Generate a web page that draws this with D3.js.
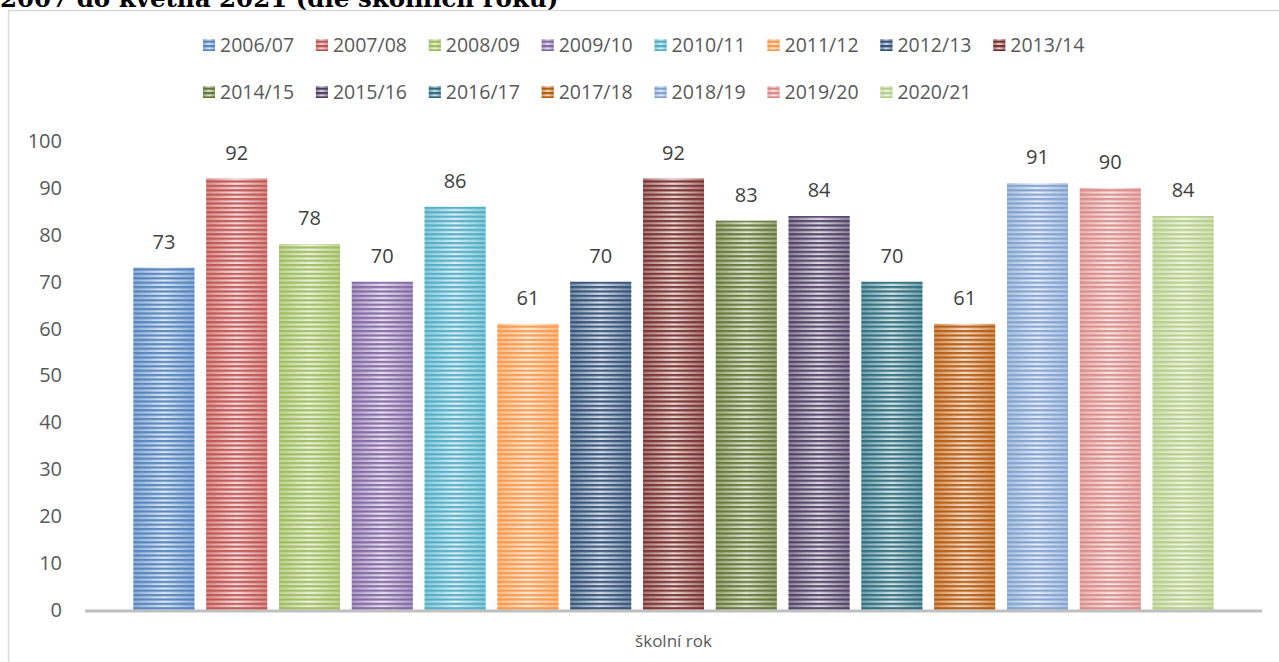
<!DOCTYPE html>
<html>
<head>
<meta charset="utf-8">
<script src="https://cdn.jsdelivr.net/npm/d3@7"></script>
<style>
  body { margin: 0; background: #fff; }
  svg { display: block; }
</style>
</head>
<body>
<div id="chart"></div>
<script>
// data
const years = ["2006/07","2007/08","2008/09","2009/10","2010/11","2011/12","2012/13","2013/14",
               "2014/15","2015/16","2016/17","2017/18","2018/19","2019/20","2020/21"];
const counts = [73, 92, 78, 70, 86, 61, 70, 92, 83, 84, 70, 61, 91, 90, 84];
const colors = ["#4f81bd","#c0504d","#9bbb59","#8064a2","#4bacc6","#f79646","#2c4d75","#772c2a",
                "#5f7530","#4d3b62","#276a7c","#b65708","#7d9fd0","#d98886","#b3cd85"];
const yTicks = [0, 10, 20, 30, 40, 50, 60, 70, 80, 90, 100];
const titleText = "2007 do května 2021 (dle školních roků)";
const axisTitle = "školní rok";

const width = 1279, height = 662;

const svg = d3.select("#chart").append("svg")
  .attr("width", width)
  .attr("height", height);

const defs = svg.append("defs");

// striped fill: gradient underneath, horizontal lines on top
colors.forEach((c, i) => {
  const edge = d3.interpolateRgb(c, "#ffffff")(0.35);
  const grad = defs.append("linearGradient")
    .attr("id", "grad" + i)
    .attr("x1", "0%").attr("x2", "100%")
    .attr("y1", "0%").attr("y2", "0%");
  grad.append("stop").attr("offset", "0%").attr("stop-color", edge);
  grad.append("stop").attr("offset", "50%").attr("stop-color", d3.interpolateRgb(c, "#ffffff")(0.82));
  grad.append("stop").attr("offset", "100%").attr("stop-color", edge);
  const pat = defs.append("pattern")
    .attr("id", "pat" + i)
    .attr("patternUnits", "userSpaceOnUse")
    .attr("width", 8).attr("height", 4.4);
  pat.append("rect")
    .attr("width", 8).attr("height", 2.2)
    .attr("fill", c);
});

// title (mostly cut off at top, as in the source)
svg.append("text")
  .attr("x", 0)
  .attr("y", 7)
  .attr("font-family", "DejaVu Serif")
  .attr("font-weight", "bold")
  .attr("font-size", 24.5)
  .attr("fill", "#000")
  .text(titleText);

// chart border
svg.append("rect")
  .attr("x", 8.5).attr("y", 10.5)
  .attr("width", 1300).attr("height", 700)
  .attr("fill", "none")
  .attr("stroke", "#d9d9d9")
  .attr("stroke-width", 1.5);

const y = d3.scaleLinear()
  .domain([0, 100])
  .range([610, 141]);

const x = d3.scaleBand()
  .domain(years)
  .range([85, 1262])
  .paddingInner(0.162)
  .paddingOuter(0.665);

// y axis labels
const yAxis = svg.append("g")
  .attr("transform", "translate(62,0)")
  .call(d3.axisLeft(y).tickValues(yTicks).tickSize(0).tickPadding(0));
yAxis.select(".domain").remove();
yAxis.selectAll("text")
  .attr("font-family", "Open Sans")
  .attr("font-size", 20)
  .attr("fill", "#595959");

// bars
const bars = svg.append("g");
bars.selectAll("rect.base")
  .data(counts)
  .enter()
  .append("rect")
    .attr("class", "base")
    .attr("x", (d, i) => x(years[i]))
    .attr("y", d => y(d))
    .attr("width", x.bandwidth())
    .attr("height", d => y(0) - y(d))
    .attr("fill", (d, i) => "url(#grad" + i + ")");
bars.selectAll("rect.stripe")
  .data(counts)
  .enter()
  .append("rect")
    .attr("class", "stripe")
    .attr("x", (d, i) => x(years[i]))
    .attr("y", d => y(d))
    .attr("width", x.bandwidth())
    .attr("height", d => y(0) - y(d))
    .attr("fill", (d, i) => "url(#pat" + i + ")")
    .attr("fill-opacity", 0.9);

// value labels
svg.append("g").selectAll("text")
  .data(counts)
  .enter()
  .append("text")
    .attr("x", (d, i) => x(years[i]) + x.bandwidth() / 2)
    .attr("y", d => y(d) - 19)
    .attr("text-anchor", "middle")
    .attr("font-family", "Open Sans")
    .attr("font-size", 20)
    .attr("fill", "#404040")
    .text(d => d);

// x axis line
svg.append("line")
  .attr("x1", 85).attr("x2", 1262)
  .attr("y1", y(0) + 1).attr("y2", y(0) + 1)
  .attr("stroke", "#bfbfbf")
  .attr("stroke-width", 3);

svg.append("text")
  .attr("x", (85 + 1262) / 2)
  .attr("y", 647)
  .attr("text-anchor", "middle")
  .attr("font-family", "Open Sans")
  .attr("font-size", 17)
  .attr("fill", "#595959")
  .text(axisTitle);

// legend, two rows of 8 slots
const legend = svg.append("g");
const item = legend.selectAll("g")
  .data(years)
  .enter()
  .append("g")
    .attr("transform", (d, i) => "translate(" + (203 + (i % 8) * 112.9) + "," + (i < 8 ? 45 : 92) + ")");
item.append("rect")
  .attr("x", 0).attr("y", -6)
  .attr("width", 12).attr("height", 12)
  .attr("fill", (d, i) => "url(#grad" + i + ")");
item.append("rect")
  .attr("x", 0).attr("y", -6)
  .attr("width", 12).attr("height", 12)
  .attr("fill", (d, i) => "url(#pat" + i + ")");
item.append("text")
  .attr("x", 17)
  .attr("y", 0)
  .attr("dy", "0.35em")
  .attr("font-family", "Open Sans")
  .attr("font-size", 19.5)
  .attr("fill", "#595959")
  .text(d => d);
</script>
</body>
</html>
